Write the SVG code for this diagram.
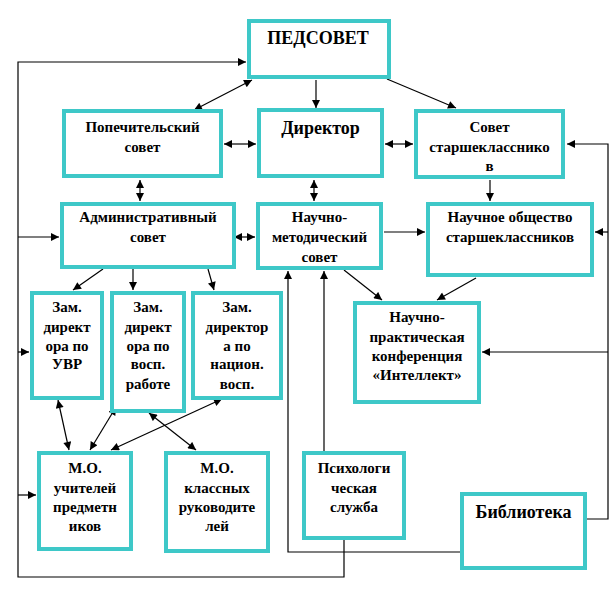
<svg xmlns="http://www.w3.org/2000/svg" width="615" height="592" viewBox="0 0 615 592">
<style>
.box{fill:#fff;stroke:#3ec8c8;stroke-width:4}
.t{font-family:"Liberation Serif","Times New Roman",serif;font-weight:bold;font-size:15px;text-anchor:middle;fill:#000}
.big{font-size:18px}
.c{fill:none;stroke:#000;stroke-width:1.2}
</style>
<defs>
<marker id="ah" viewBox="0 0 10 10" refX="10" refY="5" markerWidth="9" markerHeight="8" markerUnits="userSpaceOnUse" orient="auto-start-reverse">
<path d="M0,0 L10,5 L0,10 Z" fill="#000"/>
</marker>
</defs>
<rect width="615" height="592" fill="#fff"/>
<g id="connectors">
<path class="c" d="M344,539 V577 H18 V62 H246" marker-end="url(#ah)"/>
<path class="c" d="M18,237 H59" marker-end="url(#ah)"/>
<path class="c" d="M18,352 H29" marker-end="url(#ah)"/>
<path class="c" d="M18,495 H36" marker-end="url(#ah)"/>
<path class="c" d="M586,519 H608 V144 H567" marker-end="url(#ah)"/>
<path class="c" d="M608,232 H595" marker-end="url(#ah)"/>
<path class="c" d="M608,352 H482" marker-end="url(#ah)"/>
<path class="c" d="M461,552 H288 V271" marker-end="url(#ah)"/>
<path class="c" d="M324,452 V271" marker-end="url(#ah)"/>
<path class="c" d="M252,80 L194,110" marker-start="url(#ah)" marker-end="url(#ah)"/>
<path class="c" d="M316,80 V108" marker-end="url(#ah)"/>
<path class="c" d="M387,79 L456,108" marker-end="url(#ah)"/>
<path class="c" d="M224,144 H256" marker-start="url(#ah)" marker-end="url(#ah)"/>
<path class="c" d="M385,144 H413" marker-start="url(#ah)" marker-end="url(#ah)"/>
<path class="c" d="M490,180 V201" marker-end="url(#ah)"/>
<path class="c" d="M140,180 V201" marker-start="url(#ah)" marker-end="url(#ah)"/>
<path class="c" d="M314,180 V201" marker-start="url(#ah)" marker-end="url(#ah)"/>
<path class="c" d="M234,237 H255" marker-start="url(#ah)" marker-end="url(#ah)"/>
<path class="c" d="M384,232 H425" marker-end="url(#ah)"/>
<path class="c" d="M103,269 L73,290" marker-end="url(#ah)"/>
<path class="c" d="M133,269 V290" marker-end="url(#ah)"/>
<path class="c" d="M208,269 L214,290" marker-end="url(#ah)"/>
<path class="c" d="M344,270 L382,300" marker-end="url(#ah)"/>
<path class="c" d="M476,278 L437,300" marker-end="url(#ah)"/>
<path class="c" d="M58,400 L69,450" marker-start="url(#ah)" marker-end="url(#ah)"/>
<path class="c" d="M116,407 L90,450" marker-start="url(#ah)" marker-end="url(#ah)"/>
<path class="c" d="M222,399 L111,450" marker-start="url(#ah)" marker-end="url(#ah)"/>
<path class="c" d="M149,413 L196,450" marker-start="url(#ah)" marker-end="url(#ah)"/>
</g>
<g id="pedsovet"><rect class="box" x="249" y="21" width="140" height="56"/><text class="t big" x="318" y="44">ПЕДСОВЕТ</text></g>
<g id="popech"><rect class="box" x="64" y="111" width="157" height="65"/><text class="t" x="142.5" y="132">Попечительский</text><text class="t" x="142.5" y="152">совет</text></g>
<g id="director"><rect class="box" x="259" y="110" width="123" height="66"/><text class="t big" x="320.5" y="134">Директор</text></g>
<g id="sovet-st"><rect class="box" x="416" y="111" width="147" height="66"/><text class="t" x="489.5" y="132">Совет</text><text class="t" x="489.5" y="152">старшекласснико</text><text class="t" x="489.5" y="171">в</text></g>
<g id="admin"><rect class="box" x="62" y="204" width="172" height="63"/><text class="t" x="148" y="222">Административный</text><text class="t" x="148" y="242">совет</text></g>
<g id="nms"><rect class="box" x="258" y="204" width="123" height="64"/><text class="t" x="319.5" y="222">Научно-</text><text class="t" x="319.5" y="242">методический</text><text class="t" x="319.5" y="262">совет</text></g>
<g id="nos"><rect class="box" x="428" y="204" width="164" height="71"/><text class="t" x="510" y="222">Научное общество</text><text class="t" x="510" y="242">старшеклассников</text></g>
<g id="zam1"><rect class="box" x="32" y="293" width="70" height="105"/><text class="t" x="67" y="312">Зам.</text><text class="t" x="67" y="332">директ</text><text class="t" x="67" y="351">ора по</text><text class="t" x="67" y="369">УВР</text></g>
<g id="zam2"><rect class="box" x="112" y="293" width="72" height="118"/><text class="t" x="148" y="312">Зам.</text><text class="t" x="148" y="332">директ</text><text class="t" x="148" y="351">ора по</text><text class="t" x="148" y="369">восп.</text><text class="t" x="148" y="389">работе</text></g>
<g id="zam3"><rect class="box" x="193" y="293" width="88" height="105"/><text class="t" x="237" y="312">Зам.</text><text class="t" x="237" y="332">директор</text><text class="t" x="237" y="351">а по</text><text class="t" x="237" y="369">национ.</text><text class="t" x="237" y="389">восп.</text></g>
<g id="konf"><rect class="box" x="355" y="303" width="124" height="99"/><text class="t" x="417" y="322">Научно-</text><text class="t" x="417" y="342">практическая</text><text class="t" x="417" y="361">конференция</text><text class="t" x="417" y="380">«Интеллект»</text></g>
<g id="mo1"><rect class="box" x="39" y="453" width="92" height="96"/><text class="t" x="85" y="473">М.О.</text><text class="t" x="85" y="493">учителей</text><text class="t" x="85" y="512">предметн</text><text class="t" x="85" y="531">иков</text></g>
<g id="mo2"><rect class="box" x="166" y="453" width="102" height="98"/><text class="t" x="217" y="473">М.О.</text><text class="t" x="217" y="493">классных</text><text class="t" x="217" y="512">руководите</text><text class="t" x="217" y="531">лей</text></g>
<g id="psych"><rect class="box" x="304" y="453" width="100" height="85"/><text class="t" x="354" y="473">Психологи</text><text class="t" x="354" y="493">ческая</text><text class="t" x="354" y="512">служба</text></g>
<g id="lib"><rect class="box" x="462" y="494" width="123" height="74"/><text class="t big" x="523.5" y="518">Библиотека</text></g>
</svg>
